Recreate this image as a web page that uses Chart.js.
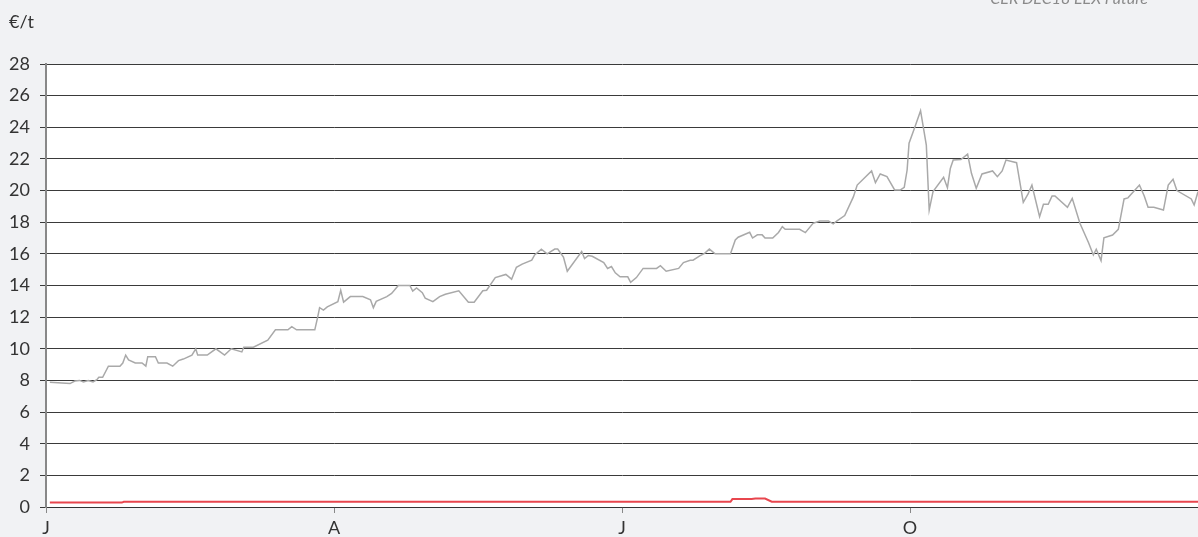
<!DOCTYPE html>
<html>
<head>
<meta charset="utf-8">
<script src="https://cdn.jsdelivr.net/npm/chart.js@4"></script>
<style>
  html, body { margin: 0; padding: 0; background: #f1f2f4; }
  #wrap { width: 1198px; height: 537px; position: relative; }
</style>
</head>
<body>
<div id="wrap"><canvas id="chart" width="1198" height="537"></canvas></div>
<script>
// x position is months since 1 January (0..12)
const quarterTicks = [0, 3, 6, 9];
const quarterLabels = ['J', 'A', 'J', 'O'];
const yTicks = [0, 2, 4, 6, 8, 10, 12, 14, 16, 18, 20, 22, 24, 26, 28];

const greyMonths = [
  0.04, 0.25, 0.30, 0.35, 0.39, 0.44, 0.49, 0.53, 0.55, 0.59, 0.65, 0.77, 0.80, 0.83, 0.86, 0.93,
  1.00, 1.04, 1.06, 1.14, 1.17, 1.26, 1.32, 1.38, 1.43, 1.52, 1.56, 1.58, 1.68, 1.77, 1.86, 1.93,
  2.04, 2.06, 2.16, 2.31, 2.39, 2.52, 2.56, 2.61, 2.80, 2.83, 2.85, 2.89, 2.93,
  3.04, 3.07, 3.10, 3.17, 3.30, 3.38, 3.41, 3.44, 3.55, 3.60, 3.67, 3.79, 3.82, 3.86, 3.92, 3.95,
  4.03, 4.10, 4.16, 4.30, 4.40, 4.46, 4.55, 4.59, 4.68, 4.79, 4.85, 4.90, 4.96,
  5.06, 5.09, 5.16, 5.22, 5.30, 5.33, 5.39, 5.43, 5.58, 5.61, 5.65, 5.69, 5.81, 5.85, 5.89, 5.93, 5.98,
  6.06, 6.09, 6.15, 6.22, 6.36, 6.40, 6.46, 6.59, 6.64, 6.71, 6.74, 6.81, 6.86, 6.91, 6.97,
  7.13, 7.18, 7.21, 7.33, 7.36, 7.41, 7.46, 7.49, 7.57, 7.63, 7.67, 7.70, 7.85, 7.91, 7.99,
  8.06, 8.15, 8.20, 8.24, 8.32, 8.41, 8.45, 8.60, 8.64, 8.69, 8.76, 8.84, 8.90, 8.94, 8.97, 8.99,
  9.05, 9.11, 9.17, 9.20, 9.24, 9.35, 9.39, 9.42, 9.45, 9.53, 9.60, 9.64, 9.69, 9.75, 9.86, 9.91, 9.96,
  10.00, 10.11, 10.18, 10.23, 10.27, 10.35, 10.39, 10.44, 10.48, 10.51, 10.64, 10.69, 10.77, 10.86, 10.91, 10.94, 10.99,
  11.02, 11.11, 11.17, 11.23, 11.27, 11.39, 11.44, 11.48, 11.54, 11.64, 11.69, 11.74, 11.78, 11.93, 11.96, 12.00
];
const greyPrices = [
  7.88, 7.80, 7.96, 8.00, 7.90, 8.00, 7.90, 8.05, 8.20, 8.20, 8.90, 8.90, 9.10, 9.60, 9.30, 9.10,
  9.10, 8.90, 9.50, 9.50, 9.10, 9.10, 8.90, 9.25, 9.35, 9.60, 10.00, 9.60, 9.60, 10.00, 9.60, 10.00,
  9.80, 10.10, 10.10, 10.55, 11.20, 11.20, 11.40, 11.20, 11.20, 12.00, 12.60, 12.45, 12.65,
  12.98, 13.70, 12.95, 13.30, 13.30, 13.10, 12.60, 13.00, 13.30, 13.50, 14.00, 14.00, 13.65, 13.85, 13.55, 13.20,
  12.98, 13.30, 13.45, 13.67, 12.94, 12.94, 13.67, 13.70, 14.50, 14.70, 14.40, 15.15, 15.35,
  15.60, 15.93, 16.30, 16.00, 16.30, 16.30, 15.80, 14.90, 16.15, 15.70, 15.90, 15.85, 15.45, 15.08, 15.20, 14.80, 14.55,
  14.55, 14.20, 14.50, 15.08, 15.08, 15.25, 14.90, 15.08, 15.45, 15.60, 15.60, 15.87, 16.03, 16.30, 16.00,
  16.00, 16.88, 17.05, 17.36, 17.00, 17.20, 17.20, 17.00, 17.00, 17.35, 17.72, 17.55, 17.55, 17.34, 17.93,
  18.08, 18.08, 17.90, 18.08, 18.42, 19.60, 20.35, 21.24, 20.50, 21.05, 20.88, 20.04, 20.04, 20.20, 21.30, 22.99,
  24.00, 25.05, 22.88, 18.77, 19.93, 20.84, 20.18, 21.40, 21.93, 21.96, 22.30, 21.09, 20.15, 21.05, 21.24, 20.88, 21.24,
  21.93, 21.76, 19.26, 19.79, 20.35, 18.35, 19.13, 19.13, 19.66, 19.66, 18.94, 19.51, 17.93, 16.70, 15.93, 16.29, 15.57,
  17.02, 17.19, 17.55, 19.47, 19.54, 20.35, 19.66, 18.94, 18.94, 18.77, 20.35, 20.71, 20.00, 19.47, 19.09, 19.93
];

const redMonths = [0.04, 0.79, 0.81, 7.13, 7.15, 7.35, 7.39, 7.49, 7.56, 12.00];
const redPrices = [0.28, 0.28, 0.33, 0.33, 0.50, 0.50, 0.53, 0.53, 0.33, 0.33];

function toPoints(xs, ys) {
    return xs.map((x, i) => ({ x: x, y: ys[i] }));
}

const FONT = 'Lato, "Noto Sans", sans-serif';

const backgroundPlugin = {
    id: 'background',
    beforeDraw(chart) {
        const ctx = chart.ctx;
        const a = chart.chartArea;
        ctx.save();
        ctx.fillStyle = '#f1f2f4';
        ctx.fillRect(0, 0, chart.width, chart.height);
        ctx.fillStyle = '#ffffff';
        ctx.fillRect(a.left, a.top, a.right - a.left, a.bottom - a.top);
        ctx.restore();
    }
};

const textPlugin = {
    id: 'texts',
    afterDraw(chart) {
        const ctx = chart.ctx;
        ctx.save();
        ctx.fillStyle = '#333333';
        ctx.font = '18px ' + FONT;
        ctx.textBaseline = 'alphabetic';
        ctx.textAlign = 'left';
        ctx.fillText('€/t', 9, 28);
        // source label, cut by the top edge
        ctx.fillStyle = '#8a8a8a';
        ctx.font = 'italic 16px ' + FONT;
        ctx.textAlign = 'right';
        ctx.fillText('CER DEC18 EEX Future', 1148, 4);
        ctx.restore();
    }
};

new Chart(document.getElementById('chart'), {
    type: 'line',
    data: {
        datasets: [{
            label: 'CER DEC18 EEX Future',
            data: toPoints(greyMonths, greyPrices),
            borderColor: '#a9a9a9',
            borderWidth: 1.5,
            pointRadius: 0,
            tension: 0
        }, {
            label: 'CER',
            data: toPoints(redMonths, redPrices),
            borderColor: '#e8464e',
            borderWidth: 2,
            pointRadius: 0,
            tension: 0
        }]
    },
    options: {
        responsive: false,
        animation: false,
        layout: { padding: { top: 64, right: 0, left: 0, bottom: 0 } },
        plugins: {
            legend: { display: false },
            tooltip: { enabled: false }
        },
        scales: {
            x: {
                type: 'linear',
                min: 0,
                max: 12,
                afterBuildTicks: scale => {
                    scale.ticks = quarterTicks.map(v => ({ value: v }));
                },
                afterFit: scale => { scale.height = 30; },
                ticks: {
                    callback: (v) => quarterLabels[quarterTicks.indexOf(v)],
                    color: '#333333',
                    font: { family: FONT, size: 18 },
                    padding: 4,
                    maxRotation: 0,
                    autoSkip: false
                },
                grid: {
                    drawOnChartArea: false,
                    drawTicks: true,
                    tickLength: 6,
                    color: '#888888'
                },
                border: { color: '#333333', width: 1 }
            },
            y: {
                min: 0,
                max: 28,
                afterBuildTicks: scale => {
                    scale.ticks = yTicks.map(v => ({ value: v }));
                },
                afterFit: scale => { scale.width = 46; },
                ticks: {
                    color: '#333333',
                    font: { family: FONT, size: 18 },
                    padding: 10
                },
                grid: {
                    color: '#3a3a3a',
                    lineWidth: 1,
                    tickLength: 6,
                    tickColor: '#3a3a3a'
                },
                border: { color: '#888888', width: 2 }
            }
        }
    },
    plugins: [backgroundPlugin, textPlugin]
});
</script>
</body>
</html>
